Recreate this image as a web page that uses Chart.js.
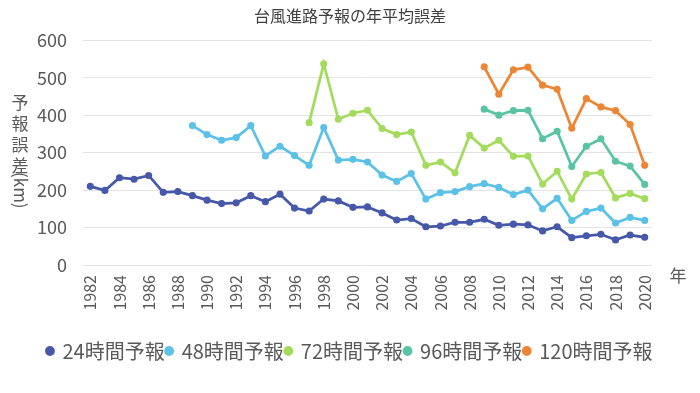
<!DOCTYPE html>
<html>
<head>
<meta charset="utf-8">
<script src="https://cdn.jsdelivr.net/npm/chart.js@4"></script>
<style>
  html, body { margin: 0; padding: 0; background: #fff; }
  #wrap { width: 700px; height: 393px; }
</style>
</head>
<body>
<div id="wrap"><canvas id="c"></canvas></div>
<script>
const years = []
for (let y = 1982; y <= 2020; y++) years.push(String(y))

const h24 = [210, 199, 233, 229, 239, 194, 196, 185, 173, 164, 166, 185, 169, 189, 152, 144, 176, 171, 154, 155,
  139, 120, 124, 102, 104, 114, 114, 122, 106, 109, 107, 91, 102, 73, 78, 82, 67, 80, 74]
const h48 = [null, null, null, null, null, null, null, 372, 348, 333, 340, 372, 291, 317, 292, 266, 367, 280, 282, 275,
  240, 223, 244, 176, 193, 196, 209, 217, 207, 188, 200, 150, 178, 119, 143, 152, 112, 127, 119]
const h72 = [null, null, null, null, null, null, null, null, null, null, null, null, null, null, null, 380, 537, 389, 405, 413,
  364, 348, 355, 266, 275, 246, 346, 312, 333, 290, 291, 216, 250, 176, 243, 247, 179, 191, 177]
const h96 = [null, null, null, null, null, null, null, null, null, null, null, null, null, null, null, null, null, null, null, null,
  null, null, null, null, null, null, null, 416, 400, 412, 413, 337, 357, 263, 317, 337, 277, 264, 215]
const h120 = [null, null, null, null, null, null, null, null, null, null, null, null, null, null, null, null, null, null, null, null,
  null, null, null, null, null, null, null, 529, 456, 521, 528, 480, 469, 365, 444, 422, 412, 375, 266]

const font = '"Noto Sans CJK JP", "Noto Sans", sans-serif'
const textColor = '#595959'

function series(label, data, color) {
  return {
    label: label,
    data: data,
    borderColor: color,
    backgroundColor: color,
    borderWidth: 2.75,
    pointRadius: 2.2,
    pointHoverRadius: 2.2,
    tension: 0,
    spanGaps: false
  }
}

// 縦書きの軸タイトルと「年」
const extraText = {
  id: 'extraText',
  afterDraw(chart) {
    const ctx = chart.ctx
    ctx.save()
    ctx.fillStyle = textColor
    ctx.font = '17px ' + font
    ctx.textAlign = 'center'
    ctx.textBaseline = 'middle'
    const chars = ['予', '報', '誤', '差']
    chars.forEach((ch, i) => ctx.fillText(ch, 20, 103 + i * 21))
    ctx.translate(20, 172)
    ctx.rotate(Math.PI / 2)
    ctx.textAlign = 'left'
    ctx.fillText('(km)', 0, 0)
    ctx.restore()

    ctx.save()
    ctx.fillStyle = textColor
    ctx.font = '17px ' + font
    ctx.textAlign = 'center'
    ctx.textBaseline = 'middle'
    ctx.fillText('年', 678, 276)
    ctx.restore()
  }
}

new Chart(document.getElementById('c'), {
  type: 'line',
  data: {
    labels: years,
    datasets: [
      series('24時間予報', h24, '#4658A9'),
      series('48時間予報', h48, '#5CC1E6'),
      series('72時間予報', h72, '#A3DC5C'),
      series('96時間予報', h96, '#5BC3A5'),
      series('120時間予報', h120, '#EC8634')
    ]
  },
  options: {
    responsive: true,
    maintainAspectRatio: false,
    animation: false,
    layout: { padding: { left: 0, right: 0, top: 0, bottom: 22 } },
    plugins: {
      title: {
        display: true,
        text: '台風進路予報の年平均誤差',
        color: '#404040',
        font: { family: font, size: 16, weight: 'normal' },
        padding: { top: 6, bottom: 15 }
      },
      legend: {
        position: 'bottom',
        labels: {
          color: textColor,
          font: { family: font, size: 20 },
          usePointStyle: true,
          pointStyle: 'circle',
          boxWidth: 5,
          boxHeight: 5,
          padding: 2
        }
      },
      tooltip: { enabled: false }
    },
    scales: {
      x: {
        offset: true,
        grid: { display: false },
        border: { display: false },
        ticks: {
          color: textColor,
          font: { family: font, size: 16 },
          maxRotation: 90,
          minRotation: 90,
          autoSkip: false,
          padding: 2,
          callback: function (v, i) { return i % 2 === 0 ? years[i] : '' }
        },
        afterFit(scale) { scale.height = 74 }
      },
      y: {
        min: 0,
        max: 600,
        grid: { color: '#E4E4E4', drawTicks: false },
        border: { display: false },
        ticks: {
          stepSize: 100,
          color: textColor,
          font: { family: font, size: 18 },
          padding: 16
        },
        afterFit(scale) { scale.width = 83 }
      },
      // 右側の余白（「年」の表示スペース）
      yRight: {
        position: 'right',
        min: 0,
        max: 600,
        grid: { display: false },
        border: { display: false },
        ticks: { display: false },
        afterFit(scale) { scale.width = 48 }
      }
    }
  },
  plugins: [extraText]
})
</script>
</body>
</html>
